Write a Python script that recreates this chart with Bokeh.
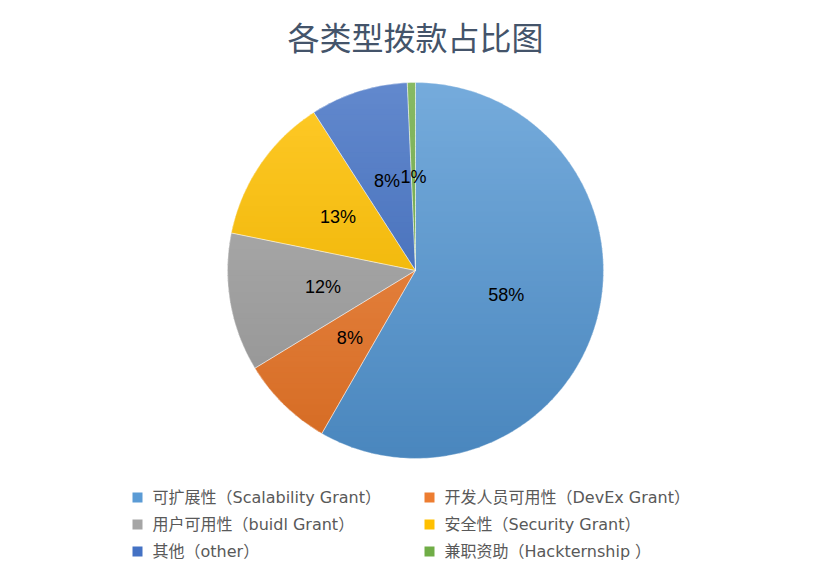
import numpy as np
from bokeh.plotting import figure
from bokeh.models import ColumnDataSource, Range1d
from bokeh.core.properties import value
from bokeh.embed import file_html
from bokeh.resources import INLINE

title_text = "各类型拨款占比图"
categories = ["可扩展性（Scalability Grant）", "开发人员可用性（DevEx Grant）",
              "用户可用性（buidl Grant）", "安全性（Security Grant）",
              "其他（other）", "兼职资助（Hackternship ）"]
shares = [58.3, 8.0, 11.9, 12.7, 8.4, 0.7]
labels = ["58%", "8%", "12%", "13%", "8%", "1%"]
colors = ["#5B9BD5", "#ED7D31", "#A5A5A5", "#FFC000", "#4472C4", "#70AD47"]

W, H = 830, 580
cx, cy, R = 415, 310, 188

p = figure(width=W, height=H, output_backend="svg", toolbar_location=None,
           x_range=Range1d(0, W), y_range=Range1d(0, H), min_border=0)
p.axis.visible = False
p.grid.visible = False
p.outline_line_color = None

fr = np.array(shares) / sum(shares)
cum = np.concatenate([[0], np.cumsum(fr)])
start = np.pi / 2 - cum[1:] * 2 * np.pi
end = np.pi / 2 - cum[:-1] * 2 * np.pi
mid = (cum[:-1] + cum[1:]) / 2 * 2 * np.pi
lx = cx + 0.5 * R * np.sin(mid)
ly = cy + 0.5 * R * np.cos(mid)


def hex2rgb(h):
    h = h.lstrip("#")
    return np.array([int(h[i:i + 2], 16) for i in (0, 2, 4)], dtype=float)


def rgb2hex(c):
    c = np.clip(np.round(c), 0, 255).astype(int)
    return "#%02x%02x%02x" % tuple(c)


def clip(poly, y, keep_above):
    out = []
    n = len(poly)
    for i in range(n):
        a, b = poly[i], poly[(i + 1) % n]
        ina = (a[1] >= y) if keep_above else (a[1] <= y)
        inb = (b[1] >= y) if keep_above else (b[1] <= y)
        if ina:
            out.append(a)
        if ina != inb:
            t = (y - a[1]) / (b[1] - a[1])
            out.append((a[0] + t * (b[0] - a[0]), y))
    return out


# gradient fill: each slice split into horizontal bands, lighter at top
NB = 70
band_h = 2 * R / NB
xs, ys, fc = [], [], []
for s, e, col in zip(start, end, colors):
    base = hex2rgb(col)
    top = base + (255 - base) * 0.16
    bot = base * 0.9 - (255 - base) * 0.05
    npts = max(4, int(abs(e - s) / (2 * np.pi) * 360))
    ang = np.linspace(s, e, npts)
    poly = [(cx, cy)] + [(cx + R * np.cos(a), cy + R * np.sin(a)) for a in ang]
    for k in range(NB):
        y0 = cy - R + k * band_h
        y1 = y0 + band_h + 0.8
        piece = clip(clip(poly, y0, True), y1, False)
        if len(piece) < 3:
            continue
        t = (k + 0.5) / NB
        xs.append([q[0] for q in piece])
        ys.append([q[1] for q in piece])
        fc.append(rgb2hex(bot + (top - bot) * t))

p.patches(xs=xs, ys=ys, fill_color=fc, line_color=None)

src = ColumnDataSource(dict(start=start, end=end, color=colors, lx=lx, ly=ly, label=labels))
p.wedge(x=cx, y=cy, radius=R, start_angle="start", end_angle="end",
        fill_color=None, line_color="white", line_width=0.5, line_alpha=0.7, source=src)
p.text(x="lx", y="ly", text="label", source=src, text_align="center",
       text_baseline="middle", text_font=value("Liberation Sans"),
       text_font_size="18px", text_color="#000000")

p.text(x=[W / 2], y=[H - 35], text=[title_text], text_align="center",
       text_baseline="middle", text_font=value("Noto Sans CJK SC"),
       text_font_size="32px", text_color="#44546A")

col_x = [137, 429]
row_y = [H - 497, H - 524, H - 551]
sx = [col_x[i % 2] for i in range(6)]
sy = [row_y[i // 2] for i in range(6)]
leg = ColumnDataSource(dict(x=sx, y=sy, tx=[v + 15 for v in sx], c=colors, t=categories))
p.rect(x="x", y="y", width=10, height=10, fill_color="c", line_color=None, source=leg)
p.text(x="tx", y="y", text="t", source=leg, text_baseline="middle",
       text_font=value("DejaVu Sans, Noto Sans CJK SC"),
       text_font_size="16px", text_color="#595959")

open("out.html", "w").write(file_html(p, INLINE))
